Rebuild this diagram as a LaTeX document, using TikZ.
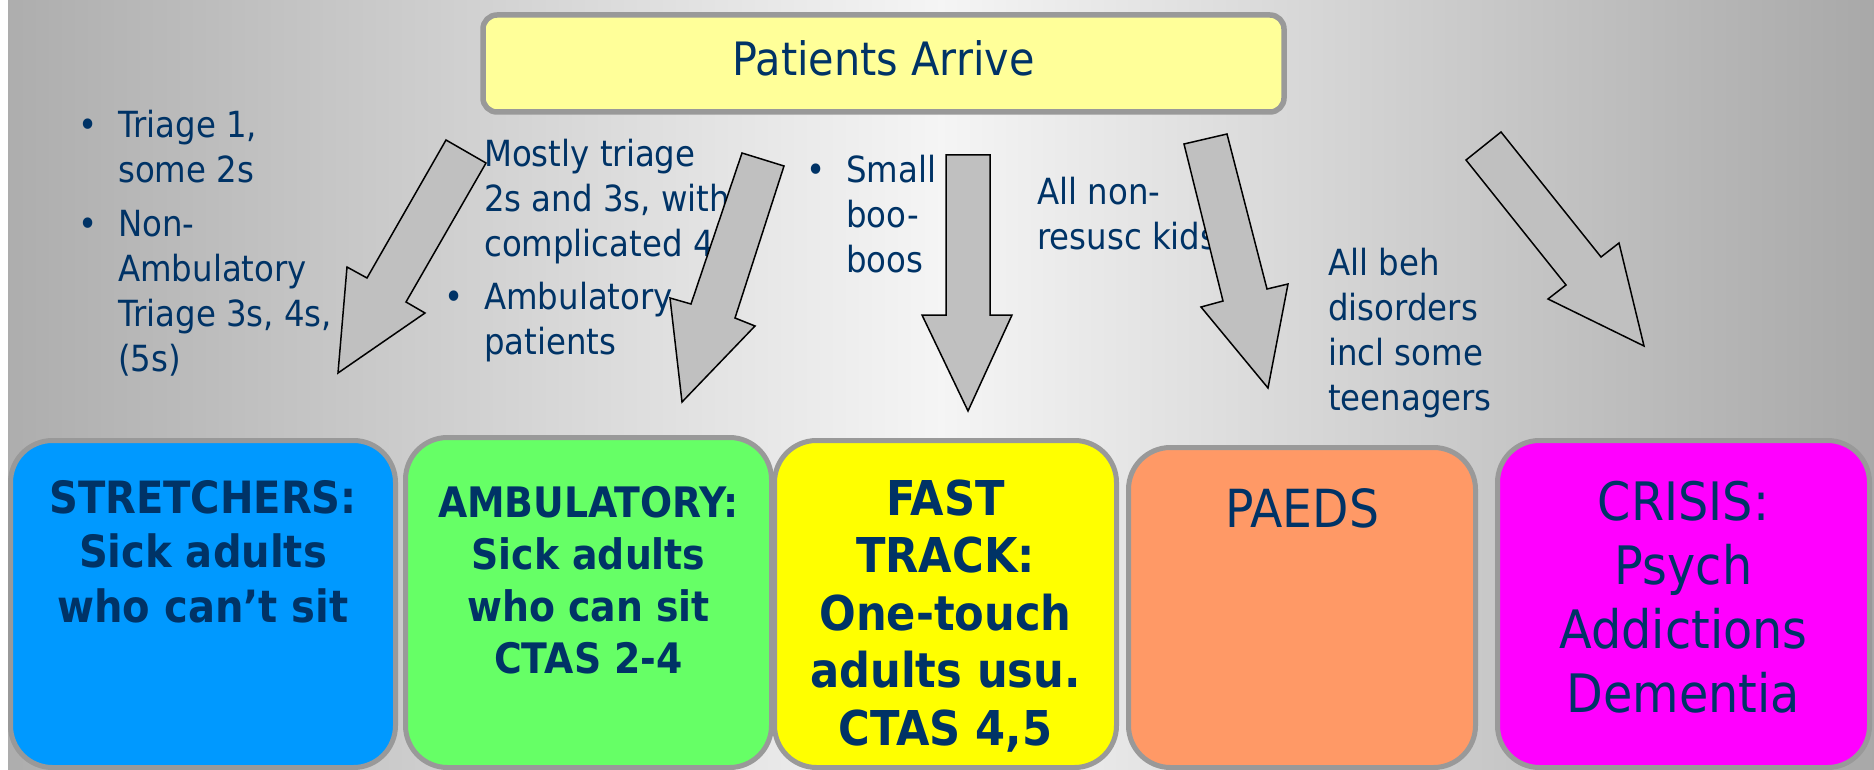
\documentclass[tikz,border=0pt]{standalone}
\usepackage{fontspec}
\setmainfont{DejaVu Sans}[FakeStretch=0.9]
\usepackage{xcolor}
\usepackage{tikz}
\usetikzlibrary{positioning}
\definecolor{navy}{RGB}{0,51,102}
\definecolor{boxgray}{RGB}{153,153,153}
\definecolor{arrowgray}{RGB}{192,192,192}
\definecolor{arriveyellow}{RGB}{255,255,153}
\definecolor{stretchblue}{RGB}{0,153,255}
\definecolor{ambgreen}{RGB}{102,255,102}
\definecolor{fastyellow}{RGB}{255,255,0}
\definecolor{paedsorange}{RGB}{255,153,102}
\definecolor{crisispink}{RGB}{255,0,255}
\newcommand{\itembul}{\makebox[40pt][l]{\textbullet}}
\tikzset{
  topbox/.style = {rectangle, draw=boxgray, line width=5.5pt, fill=arriveyellow,
    rounded corners=14pt, text=navy, font=\fontsize{46}{55}\selectfont,
    text height=34pt, text depth=9pt},% patients arrive
  zone/.style = {rectangle, draw=boxgray, line width=5pt, rounded corners=42pt,
    inner sep=0pt},% area of the department
  zonetxt/.style = {text=navy, inner sep=0pt, anchor=base},% text in an area
  note/.style = {text=navy, inner sep=0pt, anchor=base west,
    font=\fontsize{36}{45}\selectfont},% who goes where
  bigarrow/.style = {draw=black, fill=arrowgray, line width=1.5pt}
}
\begin{document}
\begin{tikzpicture}[x=1pt,y=-1pt]
\useasboundingbox (0,0) rectangle (1874,770);
\fill[white] (0,0) rectangle (8,770);
\shade[left color=black!32, right color=black!34, middle color=black!4]
  (8,0) rectangle (1874,770);
% notes
\node [note] (stretchnote) at (78,138) {\begin{tabular}[t]{@{}l@{}l@{}}
  \itembul & Triage 1,\\ & some 2s\\[9pt]
  \itembul & Non-\\ & Ambulatory\\ & Triage 3s, 4s,\\ & (5s)\end{tabular}};
\node [note] (ambnote) at (444,167) {\begin{tabular}[t]{@{}l@{}l@{}}
  \itembul & Mostly triage\\ & 2s and 3s, with\\ & complicated 4s\\[8pt]
  \itembul & Ambulatory\\ & patients\end{tabular}};
\node [note] (fastnote) at (806,183) {\begin{tabular}[t]{@{}l@{}l@{}}
  \itembul & Small\\ & boo-\\ & boos\end{tabular}};
\node [note] (paedsnote) at (1037,205) {\begin{tabular}[t]{@{}l@{}}
  All non-\\resusc kids\end{tabular}};
\node [note] (crisisnote) at (1328,275) {\begin{tabular}[t]{@{}l@{}}
  All beh\\disorders\\incl some\\teenagers\end{tabular}};
% arrows
\draw [bigarrow] (446,140) -- (486,163) -- (406,302) -- (425,313) -- (338,373)
  -- (347,267) -- (367,278) -- cycle;
\draw [bigarrow] (742,153) -- (784,166) -- (735,318) -- (755,326) -- (682,402)
  -- (670,298) -- (691,304) -- cycle;
\draw [bigarrow] (946,155) -- (990,155) -- (990,315) -- (1012,315) -- (968,411)
  -- (922,315) -- (946,315) -- cycle;
\draw [bigarrow] (1184,144) -- (1227,134) -- (1267,289) -- (1288,284) -- (1268,388)
  -- (1201,307) -- (1223,301) -- cycle;
\draw [bigarrow] (1466,160) -- (1501,132) -- (1601,257) -- (1619,243) -- (1644,346)
  -- (1548,299) -- (1566,285) -- cycle;
% boxes
\node [topbox, minimum width=801pt, minimum height=97pt] (arrive) at (883.5,63.5)
  {Patients Arrive};
\node [zone, fill=stretchblue, minimum width=385pt, minimum height=327pt]
  (stretchers) at (203,604) {};
\node [zone, fill=ambgreen, minimum width=366pt, minimum height=330pt]
  (ambulatory) at (588.5,602.5) {};
\node [zone, fill=fastyellow, minimum width=342pt, minimum height=327pt]
  (fasttrack) at (945.5,604) {};
\node [zone, fill=paedsorange, minimum width=347pt, minimum height=320pt]
  (paeds) at (1302,607.5) {};
\node [zone, fill=crisispink, minimum width=372pt, minimum height=327pt]
  (crisis) at (1683.5,604) {};
\node [zonetxt, font=\bfseries\fontsize{44.5}{54.5}\selectfont] (stretcherstxt)
  at (203,513) {\begin{tabular}[t]{@{}c@{}}STRETCHERS:\\Sick adults\\who can’t sit\end{tabular}};
\node [zonetxt, font=\bfseries\fontsize{42}{52}\selectfont] (ambulatorytxt)
  at (588.5,517) {\begin{tabular}[t]{@{}c@{}}AMBULATORY:\\Sick adults\\who can sit\\CTAS 2-4\end{tabular}};
\node [zonetxt, font=\bfseries\fontsize{48}{57.5}\selectfont] (fasttracktxt)
  at (945.5,515) {\begin{tabular}[t]{@{}c@{}}FAST\\TRACK:\\One-touch\\adults usu.\\CTAS 4,5\end{tabular}};
\node [zonetxt, font=\fontsize{52.5}{63}\selectfont] (paedstxt)
  at (1302,527) {PAEDS};
\node [zonetxt, font=\fontsize{53}{64}\selectfont] (crisistxt)
  at (1683.5,520) {\begin{tabular}[t]{@{}c@{}}CRISIS:\\Psych\\Addictions\\Dementia\end{tabular}};
\end{tikzpicture}
\end{document}
